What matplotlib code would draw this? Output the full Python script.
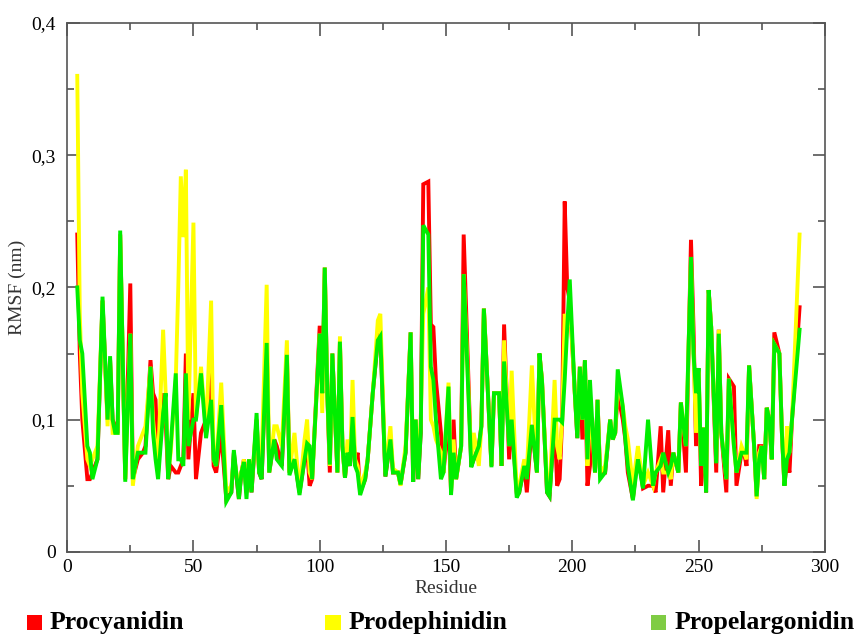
import numpy as np
import matplotlib
matplotlib.use('Agg')
import matplotlib.pyplot as plt
from matplotlib.patches import Rectangle
from matplotlib.ticker import MultipleLocator, FuncFormatter

# residue numbers and RMSF (nm)
residue = [4, 5, 6, 8, 9, 10, 12, 14, 16, 17, 18, 19, 20, 21, 23, 25, 26, 28, 30, 31,
           33, 34, 35, 36, 38, 39, 40, 41, 43, 44, 45, 46, 47, 48, 50, 51, 53, 55, 57, 58,
           59, 61, 63, 65, 66, 68, 69, 70, 71, 72, 73, 75, 76, 77, 79, 80, 82, 83, 85, 87,
           88, 90, 92, 94, 95, 96, 97, 100, 101, 102, 103, 104, 105, 107, 108, 109, 110, 111, 112, 113,
           114, 115, 116, 118, 119, 121, 123, 124, 126, 128, 129, 131, 132, 134, 136, 137, 138, 139, 140, 141,
           143, 144, 145, 146, 148, 149, 151, 152, 153, 154, 156, 157, 160, 161, 163, 164, 165, 168, 169, 171,
           172, 173, 175, 176, 178, 179, 181, 182, 184, 186, 187, 188, 190, 191, 193, 194, 195, 196, 197, 198,
           199, 201, 202, 203, 204, 205, 206, 207, 208, 209, 210, 211, 213, 215, 216, 217, 218, 220, 221, 222,
           224, 226, 228, 230, 232, 233, 235, 236, 238, 239, 240, 242, 243, 245, 247, 248, 249, 250, 251, 252,
           253, 254, 255, 257, 258, 259, 261, 262, 264, 265, 267, 268, 269, 270, 272, 273, 274, 275, 276, 277,
           278, 279, 280, 282, 283, 284, 285, 286, 287, 290]

procyanidin = [0.24, 0.15, 0.10, 0.055, 0.055, 0.06, 0.07, 0.19, 0.10, 0.145, 0.10, 0.095, 0.09, 0.24, 0.055, 0.203, 0.055, 0.07, 0.075, 0.08,
               0.145, 0.12, 0.115, 0.06, 0.12, 0.10, 0.055, 0.065, 0.06, 0.06, 0.065, 0.07, 0.15, 0.07, 0.12, 0.055, 0.09, 0.10, 0.14, 0.065,
               0.06, 0.09, 0.04, 0.045, 0.075, 0.04, 0.06, 0.07, 0.045, 0.07, 0.045, 0.10, 0.06, 0.055, 0.158, 0.06, 0.085, 0.08, 0.065, 0.15,
               0.06, 0.07, 0.045, 0.07, 0.08, 0.05, 0.055, 0.171, 0.12, 0.215, 0.12, 0.06, 0.15, 0.06, 0.159, 0.08, 0.056, 0.075, 0.065, 0.105,
               0.065, 0.075, 0.045, 0.055, 0.07, 0.12, 0.16, 0.165, 0.057, 0.085, 0.06, 0.06, 0.051, 0.075, 0.166, 0.053, 0.10, 0.055, 0.09, 0.278,
               0.28, 0.172, 0.17, 0.13, 0.09, 0.06, 0.10, 0.045, 0.10, 0.055, 0.08, 0.24, 0.065, 0.07, 0.08, 0.095, 0.184, 0.065, 0.12, 0.12,
               0.065, 0.172, 0.07, 0.10, 0.045, 0.045, 0.065, 0.045, 0.096, 0.06, 0.15, 0.13, 0.045, 0.042, 0.10, 0.05, 0.055, 0.10, 0.265, 0.20,
               0.19, 0.12, 0.086, 0.14, 0.085, 0.145, 0.05, 0.065, 0.09, 0.06, 0.115, 0.06, 0.06, 0.10, 0.085, 0.09, 0.12, 0.10, 0.085, 0.06,
               0.04, 0.075, 0.048, 0.05, 0.05, 0.045, 0.095, 0.045, 0.092, 0.05, 0.075, 0.06, 0.113, 0.06, 0.236, 0.17, 0.08, 0.139, 0.05, 0.094,
               0.045, 0.198, 0.17, 0.06, 0.168, 0.09, 0.045, 0.131, 0.125, 0.05, 0.075, 0.075, 0.065, 0.141, 0.08, 0.042, 0.08, 0.08, 0.055, 0.109,
               0.10, 0.07, 0.166, 0.15, 0.09, 0.05, 0.07, 0.06, 0.10, 0.185]

prodephinidin = [0.36, 0.18, 0.12, 0.07, 0.065, 0.07, 0.08, 0.19, 0.095, 0.145, 0.09, 0.09, 0.09, 0.24, 0.055, 0.165, 0.05, 0.08, 0.09, 0.095,
                 0.14, 0.10, 0.08, 0.07, 0.168, 0.12, 0.06, 0.075, 0.13, 0.20, 0.284, 0.238, 0.289, 0.10, 0.249, 0.10, 0.14, 0.09, 0.19, 0.07,
                 0.065, 0.128, 0.045, 0.05, 0.07, 0.05, 0.06, 0.07, 0.045, 0.07, 0.05, 0.10, 0.06, 0.07, 0.202, 0.06, 0.095, 0.095, 0.08, 0.16,
                 0.06, 0.09, 0.045, 0.085, 0.10, 0.06, 0.055, 0.165, 0.105, 0.215, 0.12, 0.065, 0.15, 0.06, 0.163, 0.08, 0.056, 0.085, 0.065, 0.13,
                 0.07, 0.065, 0.05, 0.06, 0.07, 0.12, 0.175, 0.18, 0.06, 0.095, 0.063, 0.06, 0.05, 0.08, 0.166, 0.06, 0.10, 0.06, 0.10, 0.18,
                 0.20, 0.10, 0.095, 0.085, 0.075, 0.06, 0.128, 0.045, 0.085, 0.055, 0.08, 0.21, 0.07, 0.09, 0.065, 0.095, 0.184, 0.065, 0.12, 0.12,
                 0.065, 0.16, 0.08, 0.137, 0.045, 0.05, 0.07, 0.06, 0.141, 0.06, 0.15, 0.13, 0.05, 0.045, 0.13, 0.08, 0.07, 0.10, 0.18, 0.17,
                 0.19, 0.12, 0.09, 0.14, 0.10, 0.145, 0.065, 0.10, 0.09, 0.06, 0.115, 0.06, 0.065, 0.10, 0.085, 0.09, 0.13, 0.11, 0.095, 0.085,
                 0.05, 0.08, 0.05, 0.06, 0.05, 0.06, 0.07, 0.06, 0.06, 0.055, 0.075, 0.06, 0.113, 0.08, 0.223, 0.15, 0.09, 0.139, 0.065, 0.094,
                 0.05, 0.198, 0.17, 0.07, 0.168, 0.09, 0.055, 0.131, 0.08, 0.06, 0.08, 0.075, 0.07, 0.141, 0.08, 0.04, 0.075, 0.08, 0.055, 0.109,
                 0.10, 0.07, 0.157, 0.15, 0.09, 0.05, 0.095, 0.075, 0.10, 0.24]

propelargonidin = [0.20, 0.16, 0.15, 0.08, 0.075, 0.055, 0.07, 0.193, 0.10, 0.148, 0.10, 0.09, 0.09, 0.243, 0.053, 0.165, 0.055, 0.075, 0.075, 0.075,
                   0.14, 0.09, 0.07, 0.055, 0.105, 0.12, 0.055, 0.08, 0.135, 0.07, 0.07, 0.065, 0.135, 0.08, 0.10, 0.10, 0.135, 0.086, 0.115, 0.07,
                   0.065, 0.111, 0.038, 0.045, 0.077, 0.04, 0.06, 0.068, 0.04, 0.07, 0.045, 0.105, 0.06, 0.055, 0.158, 0.06, 0.085, 0.07, 0.065, 0.149,
                   0.058, 0.07, 0.043, 0.07, 0.082, 0.08, 0.055, 0.165, 0.12, 0.215, 0.12, 0.066, 0.15, 0.06, 0.159, 0.08, 0.056, 0.075, 0.065, 0.102,
                   0.065, 0.06, 0.043, 0.055, 0.07, 0.12, 0.16, 0.163, 0.057, 0.085, 0.06, 0.06, 0.051, 0.075, 0.166, 0.053, 0.10, 0.055, 0.09, 0.247,
                   0.24, 0.14, 0.13, 0.10, 0.055, 0.06, 0.125, 0.043, 0.075, 0.055, 0.08, 0.21, 0.064, 0.07, 0.08, 0.095, 0.184, 0.064, 0.12, 0.12,
                   0.065, 0.144, 0.08, 0.10, 0.041, 0.045, 0.065, 0.055, 0.096, 0.06, 0.15, 0.13, 0.045, 0.042, 0.10, 0.10, 0.10, 0.098, 0.13, 0.17,
                   0.206, 0.12, 0.086, 0.14, 0.10, 0.145, 0.07, 0.13, 0.095, 0.06, 0.115, 0.055, 0.06, 0.10, 0.085, 0.09, 0.138, 0.11, 0.085, 0.065,
                   0.039, 0.07, 0.048, 0.10, 0.05, 0.06, 0.065, 0.075, 0.06, 0.065, 0.075, 0.06, 0.113, 0.08, 0.223, 0.15, 0.12, 0.139, 0.065, 0.094,
                   0.045, 0.198, 0.17, 0.067, 0.165, 0.09, 0.055, 0.131, 0.08, 0.06, 0.075, 0.075, 0.075, 0.141, 0.08, 0.042, 0.07, 0.08, 0.055, 0.109,
                   0.10, 0.07, 0.157, 0.15, 0.09, 0.05, 0.07, 0.075, 0.10, 0.168]

names = ['Procyanidin', 'Prodephinidin', 'Propelargonidin']
line_colors = ['#ff0000', '#ffff00', '#00ee00']
box_colors = ['#ff0000', '#ffff00', '#7fcc44']

plt.rcParams['font.family'] = ['Liberation Serif', 'DejaVu Serif']

fig = plt.figure(figsize=(8.61, 6.38), dpi=100)
ax = fig.add_axes([0.078, 0.135, 0.880, 0.829])

for vals, c in zip([procyanidin, prodephinidin, propelargonidin], line_colors):
    ax.plot(residue, vals, color=c, lw=2.8, solid_joinstyle='miter')

ax.set_xlim(0, 300)
ax.set_ylim(0, 0.4)
ax.xaxis.set_major_locator(MultipleLocator(50))
ax.xaxis.set_minor_locator(MultipleLocator(25))
ax.yaxis.set_major_locator(MultipleLocator(0.1))
ax.yaxis.set_minor_locator(MultipleLocator(0.05))
ax.yaxis.set_major_formatter(FuncFormatter(lambda v, p: '0' if abs(v) < 1e-9 else ('%.1f' % v).replace('.', ',')))

ax.tick_params(which='both', direction='in', top=True, right=True, color='#555555', labelsize=14)
ax.tick_params(which='major', length=9, width=1.2)
ax.tick_params(which='minor', length=5, width=1.2)
ax.tick_params(axis='y', which='major', pad=8)
ax.tick_params(axis='x', which='major', pad=5)
for s in ax.spines.values():
    s.set_color('#555555')
    s.set_linewidth(1.2)

ax.set_xlabel('Residue', fontsize=14, color='#333333', labelpad=3)
ax.set_ylabel('RMSF (nm)', fontsize=14, color='#333333', labelpad=4)

# legend row under the chart
xs = [0.031, 0.378, 0.756]
for x0, name, c in zip(xs, names, box_colors):
    fig.patches.append(Rectangle((x0, 0.013), 0.0175, 0.0235, transform=fig.transFigure,
                                 facecolor=c, edgecolor='none'))
    fig.text(x0 + 0.027, 0.014, name, fontsize=18.5, fontweight='bold', va='baseline', ha='left')

fig.savefig('out.png', dpi=100)
